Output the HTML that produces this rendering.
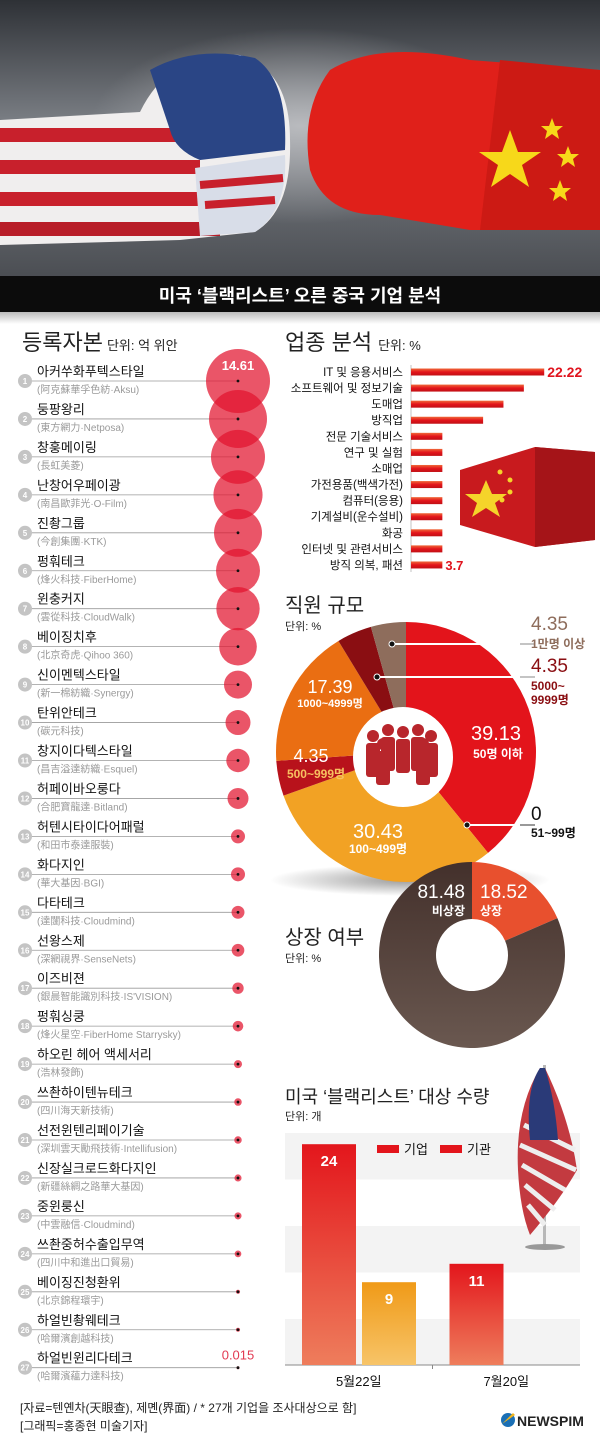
<!DOCTYPE html>
<html><head><meta charset="utf-8">
<style>
html,body{margin:0;padding:0;background:#fff;}
svg{display:block;font-family:"Liberation Sans","Noto Sans CJK KR",sans-serif;}
</style></head>
<body>
<svg id="root" width="600" height="1447" viewBox="0 0 600 1447" xmlns="http://www.w3.org/2000/svg">
<defs>
  <linearGradient id="sky" x1="0" y1="0" x2="0" y2="1">
    <stop offset="0" stop-color="#2e3136"/><stop offset="0.45" stop-color="#7d8187"/><stop offset="1" stop-color="#4a4d52"/>
  </linearGradient>
  <radialGradient id="glow" cx="0.5" cy="0.45" r="0.35"><stop offset="0" stop-color="#c8c9cc" stop-opacity="0.8"/><stop offset="1" stop-color="#c8c9cc" stop-opacity="0"/></radialGradient>
  <linearGradient id="shade" x1="0" y1="0" x2="0" y2="1"><stop offset="0" stop-color="#bbb"/><stop offset="1" stop-color="#fff"/></linearGradient>
  <linearGradient id="gRed" x1="0" y1="0" x2="0" y2="1"><stop offset="0" stop-color="#e3161c"/><stop offset="1" stop-color="#ee7d5c"/></linearGradient>
  <linearGradient id="gOr" x1="0" y1="0" x2="0" y2="1"><stop offset="0" stop-color="#f09a18"/><stop offset="1" stop-color="#f7c468"/></linearGradient>
  <linearGradient id="gBar" x1="0" y1="0" x2="0" y2="1"><stop offset="0" stop-color="#f06a3a"/><stop offset="0.5" stop-color="#e3141b"/><stop offset="1" stop-color="#c01015"/></linearGradient>
  <linearGradient id="gBrown" x1="0" y1="0" x2="0" y2="1"><stop offset="0" stop-color="#43302b"/><stop offset="1" stop-color="#6a5850"/></linearGradient>
  <radialGradient id="shadow" cx="0.5" cy="0.5" r="0.5"><stop offset="0" stop-color="#555" stop-opacity="0.6"/><stop offset="1" stop-color="#555" stop-opacity="0"/></radialGradient>
</defs>

<g>
  <rect x="0" y="0" width="600" height="280" fill="url(#sky)"/>
  <rect x="0" y="0" width="600" height="280" fill="url(#glow)"/>
  <g>
    <path d="M0 120 L140 112 Q170 50 240 55 Q290 70 290 140 Q292 210 255 232 L180 240 L0 245 Z" fill="#f0eeee"/>
    <rect x="0" y="128" width="190" height="14" fill="#c8202c"/>
    <rect x="0" y="160" width="200" height="14" fill="#c8202c"/>
    <rect x="0" y="192" width="230" height="14" fill="#c8202c"/>
    <rect x="0" y="222" width="220" height="14" fill="#b81d28"/>
    <path d="M150 70 Q195 45 255 58 Q288 80 285 150 L200 160 Q175 150 170 130 Z" fill="#2a4585"/>
    <path d="M195 168 L285 155 Q288 210 255 232 L200 236 Z" fill="#d8dde8"/>
    <path d="M200 185 L283 178 M205 205 L275 200" stroke="#c8202c" stroke-width="8"/>
  </g>
  <g>
    <path d="M600 70 L470 60 Q380 40 330 70 Q300 110 310 170 Q325 215 380 215 L470 230 L600 230 Z" fill="#e0201a"/>
    <path d="M600 70 L500 60 L480 230 L600 230 Z" fill="#cc1a14"/>
    <polygon points="510,130 518,152 541,152 522,165 529,187 510,174 491,187 498,165 479,152 502,152" fill="#f7d81a"/>
    <polygon points="552,118 555,126 563,126 557,131 559,139 552,134 545,139 547,131 541,126 549,126" fill="#f7d81a"/>
    <polygon points="568,146 571,154 579,154 573,159 575,167 568,162 561,167 563,159 557,154 565,154" fill="#f7d81a"/>
    <polygon points="560,180 563,188 571,188 565,193 567,201 560,196 553,201 555,193 549,188 557,188" fill="#f7d81a"/>
  </g>
  <rect x="0" y="276" width="600" height="36" fill="#0c0c0c"/>
  <rect x="0" y="312" width="600" height="12" fill="url(#shade)"/>
  <text x="300" y="302" text-anchor="middle" font-size="18" font-weight="bold" fill="#fff">미국 ‘블랙리스트’ 오른 중국 기업 분석</text>
</g>

<text x="22" y="350" font-size="22" fill="#222">등록자본<tspan font-size="13" dx="4">단위: 억 위안</tspan></text>
<g id="capital"></g>

<text x="285" y="350" font-size="22" fill="#222">업종 분석<tspan font-size="13" dx="6">단위: %</tspan></text>
<g>
  <polygon points="460,470 535,447 595,452 595,540 535,547 460,525" fill="#c81a1e"/>
  <polygon points="535,447 595,452 595,540 535,547" fill="#a51418"/>
  <polygon points="472,480 478,494 493,494 481,503 486,517 472,508 458,517 463,503 451,494 466,494" transform="translate(14,0)" fill="#f5d42a"/>
  <circle cx="500" cy="472" r="2.5" fill="#f5d42a"/><circle cx="510" cy="480" r="2.5" fill="#f5d42a"/>
  <circle cx="510" cy="492" r="2.5" fill="#f5d42a"/><circle cx="502" cy="500" r="2.5" fill="#f5d42a"/>
</g>
<g id="industry"></g>

<ellipse cx="410" cy="880" rx="140" ry="16" fill="url(#shadow)"/>
<text x="285" y="612" font-size="20" fill="#222">직원 규모</text>
<text x="285" y="630" font-size="11" fill="#222">단위: %</text>
<g id="emp"></g>

<text x="285" y="944" font-size="20" fill="#222">상장 여부</text>
<text x="285" y="962" font-size="11" fill="#222">단위: %</text>
<g id="list"></g>

<text x="285" y="1103" font-size="18" fill="#222">미국 ‘블랙리스트’ 대상 수량</text>
<text x="285" y="1120" font-size="11" fill="#222">단위: 개</text>
<g id="bl"></g>
<g>
  <rect x="543" y="1065" width="3" height="180" fill="#b8b8b8"/>
  <ellipse cx="545" cy="1247" rx="20" ry="3" fill="#999"/>
  <path d="M540 1068 Q515 1110 518 1170 Q520 1210 530 1235 Q560 1200 577 1170 Q570 1120 545 1068 Z" fill="#c33a40"/>
  <path d="M524 1125 L575 1150 M520 1145 L576 1170 M522 1165 L565 1190 M525 1185 L555 1210 M528 1205 L545 1225" stroke="#eee" stroke-width="5" fill="none"/>
  <path d="M540 1068 Q525 1090 530 1140 L558 1140 Q555 1100 545 1068 Z" fill="#2a3a78"/>
</g>

<text x="20" y="1412" font-size="12" fill="#222">[자료=텐옌차(天眼查), 제몐(界面) / * 27개 기업을 조사대상으로 함]</text>
<text x="20" y="1430" font-size="12" fill="#222">[그래픽=홍종현 미술기자]</text>
<g>
  <circle cx="508" cy="1420" r="7" fill="#1a6fb5"/><path d="M502 1424 L513 1413 L515 1415 Z" fill="#f2b51b"/>
  <text x="517" y="1426" font-size="14" font-weight="bold" fill="#222">NEWSPIM</text>
</g>

<script>
const NS="http://www.w3.org/2000/svg";
function mk(tag,attrs,parent,txt){const e=document.createElementNS(NS,tag);for(const k in attrs)e.setAttribute(k,attrs[k]);if(txt!==undefined)e.textContent=txt;parent.appendChild(e);return e;}

const capNames=["아커쑤화푸텍스타일","둥팡왕리","창훙메이링","난창어우페이광","진촹그룹","펑훠테크","윈충커지","베이징치후","신이멘텍스타일","탄위안테크","창지이다텍스타일","허페이바오룽다","허텐시타이다어패럴","화다지인","다타테크","선왕스제","이즈비젼","펑훠싱쿵","하오린 헤어 액세서리","쓰촨하이텐뉴테크","선전윈텐리페이기술","신장실크로드화다지인","중윈룽신","쓰촨중허수출입무역","베이징진청환위","하얼빈촹웨테크","하얼빈윈리다테크"];
const capSubs=["(阿克蘇華孚色紡·Aksu)","(東方網力·Netposa)","(長虹美菱)","(南昌歐菲光·O-Film)","(今創集團·KTK)","(烽火科技·FiberHome)","(雲從科技·CloudWalk)","(北京奇虎·Qihoo 360)","(新一棉紡織·Synergy)","(碳元科技)","(昌吉溢達紡織·Esquel)","(合肥寶龍達·Bitland)","(和田市泰達服裝)","(華大基因·BGI)","(達闥科技·Cloudmind)","(深網視界·SenseNets)","(銀晨智能識別科技·IS'VISION)","(烽火星空·FiberHome Starrysky)","(浩林發飾)","(四川海天新技術)","(深圳雲天勵飛技術·Intellifusion)","(新疆絲綢之路華大基因)","(中雲融信·Cloudmind)","(四川中和進出口貿易)","(北京錦程環宇)","(哈爾濱創越科技)","(哈爾濱蘊力達科技)"];
const capValues=[14.61,12.0,10.4,8.6,8.2,6.9,6.7,5.05,2.8,2.23,1.95,1.57,0.7,0.7,0.6,0.57,0.46,0.4,0.23,0.2,0.2,0.18,0.18,0.16,0.06,0.06,0.015];

const indCats=["IT 및 응용서비스","소프트웨어 및 정보기술","도매업","방직업","전문 기술서비스","연구 및 실험","소매업","가전용품(백색가전)","컴퓨터(응용)","기계설비(운수설비)","화공","인터넷 및 관련서비스","방직 의복, 패션"];
const indValues=[22.22,18.52,14.81,11.11,3.7,3.7,3.7,3.7,3.7,3.7,3.7,3.7,3.7];

const empCats=["50명 이하","51~99명","100~499명","500~999명","1000~4999명","5000~9999명","1만명 이상"];
const empValues=[39.13,0,30.43,4.35,17.39,4.35,4.35];

const lstCats=["상장","비상장"];
const lstValues=[18.52,81.48];

const blDates=["5월22일","7월20일"];
const blCompany=[24,11];
const blInstitution=[9,0];

(function(){
  const g=document.getElementById('capital');
  const y0=381, step=37.95, cx=238, rMax=32, vMax=14.61;
  const rad=v=>Math.max(1.5,rMax*Math.sqrt(v/vMax));
  const yOf=i=>y0+i*step;
  capValues.forEach((v,i)=>{
    const y=yOf(i);
    const ln=mk('line',{x1:30,y1:y,x2:cx,y2:y,stroke:'#9a9a9a','stroke-width':0.8},g);
    
    
    const nb=mk('circle',{cx:25,cy:y,r:7,fill:'#c4c4c4'},g);
    
    
    const nt=mk('text',{x:25,y:y+3,'text-anchor':'middle','font-size':8,'font-weight':'bold',fill:'#fff'},g,String(i+1));
    
    
    const t=mk('text',{x:37,y:y-5,'font-size':13,fill:'#111'},g,capNames[i]);
    
    
    const s=mk('text',{x:37,y:y+12,'font-size':10,fill:'#9a9a9a'},g,capSubs[i]);
    
    
  });
  capValues.forEach((v,i)=>{
    const c=mk('circle',{cx:cx,cy:yOf(i),r:rad(v),fill:'#e2142e','fill-opacity':0.72},g);
    
    
    const d=mk('circle',{cx:cx,cy:yOf(i),r:1.4,fill:'#111'},g);
    
    
  });
  const t1=mk('text',{x:cx,y:yOf(0)-11,'text-anchor':'middle','font-size':13,'font-weight':'bold',fill:'#fff'},g,capValues[0].toFixed(2));
  
  
  const tl=mk('text',{x:cx,y:yOf(26)-8,'text-anchor':'middle','font-size':13,fill:'#e23a52'},g,String(capValues[26]));
  
  
})();

(function(){
  const g=document.getElementById('industry');
  const x0=411, y0=372, step=16.08;
  const len=v=>11+5.5*v;
  const ax=mk('line',{x1:x0,y1:y0-7,x2:x0,y2:y0+12*step+7,stroke:'#aaa','stroke-width':0.7},g);
  
  
  indValues.forEach((v,i)=>{
    const y=y0+i*step;
    const b=mk('rect',{x:x0,y:y-3.5,width:len(v),height:7,fill:'url(#gBar)'},g);
    
    
    const t=mk('text',{x:x0-8,y:y+4,'text-anchor':'end','font-size':11.5,fill:'#111'},g,indCats[i]);
    
    
  });
  const f=mk('text',{x:x0+len(indValues[0])+3,y:y0+5,'font-size':14,'font-weight':'bold',fill:'#e0141e'},g,indValues[0].toFixed(2));
  
  
  const l=mk('text',{x:x0+len(indValues[12])+3,y:y0+12*step+5,'font-size':13,'font-weight':'bold',fill:'#e0141e'},g,String(indValues[12]));
  
  
})();

function arc(cx,cy,r,ri,a0,a1){
  const p=(a,rr)=>[cx+rr*Math.sin(a),cy-rr*Math.cos(a)];
  const lg=(a1-a0)>Math.PI?1:0;
  const [x1,y1]=p(a0,r),[x2,y2]=p(a1,r),[x3,y3]=p(a1,ri),[x4,y4]=p(a0,ri);
  return `M${x1} ${y1} A${r} ${r} 0 ${lg} 1 ${x2} ${y2} L${x3} ${y3} A${ri} ${ri} 0 ${lg} 0 ${x4} ${y4} Z`;
}

(function(){
  const g=document.getElementById('emp');
  const cx=406, cy=752, R=130, Ri=0;
  const cols=['#e3141b','#e8452a','#f2a224','#b8121b','#ea6e12','#8a0e12','#8e6d5c'];
  let a=0;
  empValues.forEach((v,i)=>{
    const a1=a+v/100*2*Math.PI;
    if(v>0){const p=mk('path',{d:arc(cx,cy,R,Ri,a,a1),fill:cols[i]},g);
    
    }
    a=a1;
  });
  const hole=mk('circle',{cx:cx-3,cy:cy+5,r:50,fill:'#fff'},g);
  
  
  const pg=mk('g',{fill:'#b8262c'},g);
  
  
  [[-30,0],[-15,-6],[0,-4],[15,-6],[28,0],[-20,8],[20,8]].forEach(([dx,dy])=>{
    mk('circle',{cx:cx-3+dx,cy:cy-16+dy,r:6},pg);
    mk('rect',{x:cx-3+dx-7,y:cy-9+dy,width:14,height:34,rx:3},pg);
  });
  const lab=(x,y,s,fs,fill,name,w)=>{const t=mk('text',{x:x,y:y,'text-anchor':'middle','font-size':fs,fill:fill,'font-weight':w||'normal'},g,s);
    
    };
  lab(496,740,empValues[0].toFixed(2),20,'#fff','slice-value');
  lab(498,758,empCats[0],12,'#fff','slice-category','bold');
  lab(378,838,empValues[2].toFixed(2),20,'#fff','slice-value');
  lab(378,853,empCats[2],12,'#fff','slice-category','bold');
  lab(311,762,empValues[3].toFixed(2),18,'#fff','slice-value');
  lab(316,778,empCats[3],12,'#f7c060','slice-category','bold');
  lab(330,693,empValues[4].toFixed(2),18,'#fff','slice-value');
  lab(330,707,empCats[4],11,'#fff','slice-category','bold');
  const call=(x,y,col,name)=>{const l=mk('line',{x1:x,y1:y,x2:533,y2:y,stroke:col,'stroke-width':2},g);
    
    
    const d=mk('circle',{cx:x,cy:y,r:3,fill:'#111',stroke:'#fff','stroke-width':1},g);
    
    };
  call(392,644,'#fff','callout-line');call(377,677,'#fff','callout-line');call(467,825,'#fff','callout-line');
  mk('line',{x1:520,y1:644,x2:535,y2:644,stroke:'#888','stroke-width':1},g);
  mk('line',{x1:520,y1:677,x2:535,y2:677,stroke:'#888','stroke-width':1},g);
  mk('line',{x1:520,y1:825,x2:535,y2:825,stroke:'#333','stroke-width':1},g);
  const rl=(x,y,s,fs,fill,w)=>{const t=mk('text',{x:x,y:y,'font-size':fs,fill:fill,'font-weight':w||'normal'},g,s);
    
    };
  rl(531,630,empValues[6].toFixed(2),19,'#8e6d5c');
  rl(531,648,empCats[6],12,'#8e6d5c','bold');
  rl(531,672,empValues[5].toFixed(2),19,'#8a0e12');
  rl(531,690,'5000~',12,'#8a0e12','bold');
  rl(531,704,'9999명',12,'#8a0e12','bold');
  rl(531,820,String(empValues[1]),19,'#111');
  rl(531,837,empCats[1],12,'#111','bold');
})();

(function(){
  const g=document.getElementById('list');
  const cx=472, cy=955, R=93, Ri=36;
  const cols=['#e8502e','url(#gBrown)'];
  let a=0;
  lstValues.forEach((v,i)=>{
    const a1=a+v/100*2*Math.PI;
    const p=mk('path',{d:arc(cx,cy,R,Ri,a,a1),fill:cols[i]},g);
    
    
    a=a1;
  });
  const lab=(x,y,s,fs,anc,w)=>{const t=mk('text',{x:x,y:y,'text-anchor':anc,'font-size':fs,fill:'#fff','font-weight':w||'normal'},g,s);
    
    };
  lab(465,898,lstValues[1].toFixed(2),19,'end');
  lab(465,915,lstCats[1],12,'end','bold');
  lab(480,898,lstValues[0].toFixed(2),19,'start');
  lab(480,915,lstCats[0],12,'start','bold');
})();

(function(){
  const g=document.getElementById('bl');
  const x0=285, x1=580, yB=1365, pxU=9.2, band=(x1-x0)/blDates.length;
  const yv=v=>yB-v*pxU;
  for(let k=0;k<5;k++){
    if(k%2===0){const r=mk('rect',{x:x0,y:1133+k*46.5,width:x1-x0,height:46.5,fill:'#f3f3f3'},g);
    
    }
  }
  const ax=mk('line',{x1:x0,y1:yB,x2:x1,y2:yB,stroke:'#888','stroke-width':1},g);
  
  
  const series=[[blCompany,'url(#gRed)'],[blInstitution,'url(#gOr)']];
  blDates.forEach((d,i)=>{
    const bx=x0+i*band;
    if(i>0){mk('line',{x1:bx,y1:yB,x2:bx,y2:yB+4,stroke:'#888'},g);}
    series.forEach(([arr,fill],s)=>{
      const v=arr[i]; if(!v) return;
      const r=mk('rect',{x:bx+17+s*60,y:yv(v),width:54,height:v*pxU,fill:fill},g);
      
      
      const t=mk('text',{x:bx+44+s*60,y:yv(v)+22,'text-anchor':'middle','font-size':15,'font-weight':'bold',fill:'#fff'},g,String(v));
      
      
    });
    const t=mk('text',{x:bx+band/2,y:yB+21,'text-anchor':'middle','font-size':13,fill:'#111'},g,d);
    
    
  });
  const lg=[[377,'기업'],[440,'기관']];
  lg.forEach(([x,s])=>{
    const r=mk('rect',{x:x,y:1145,width:22,height:8,fill:'#e3141b'},g);
    
    
    const t=mk('text',{x:x+27,y:1154,'font-size':13,fill:'#111'},g,s);
    
    
  });
})();
</script>
</svg>
</body></html>
